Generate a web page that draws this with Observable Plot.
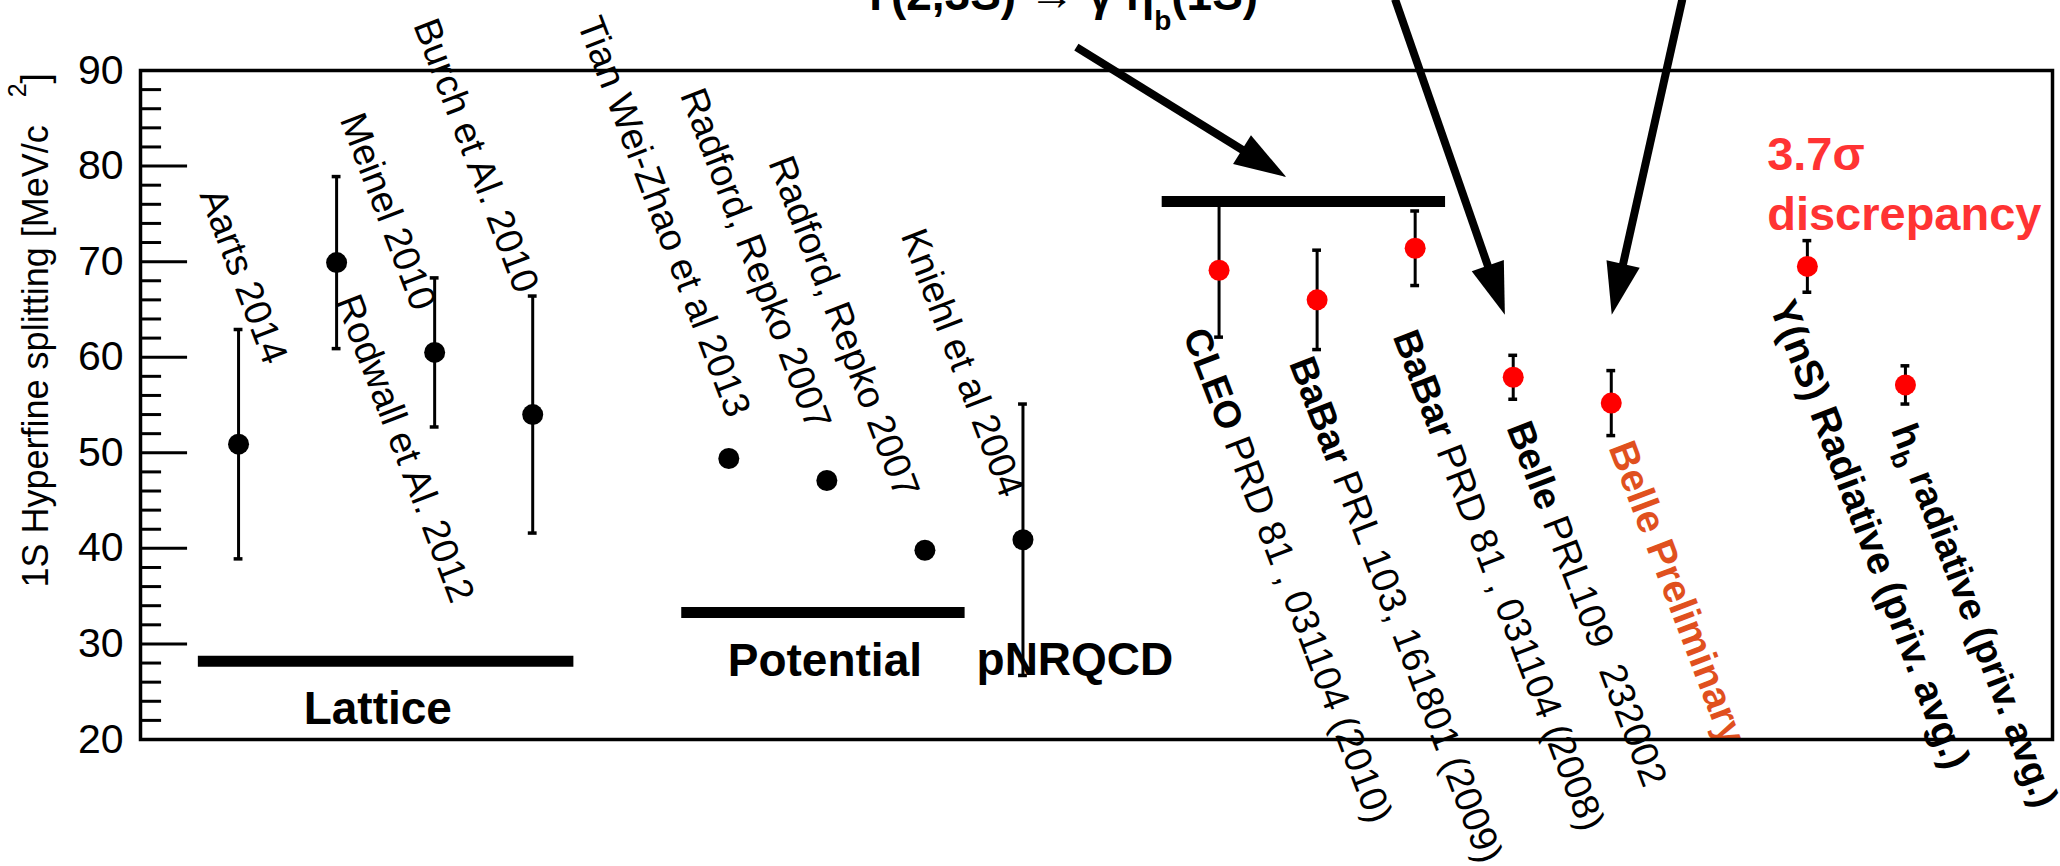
<!DOCTYPE html>
<html><head><meta charset="utf-8">
<script src="https://cdn.jsdelivr.net/npm/d3@7"></script>
<script src="https://cdn.jsdelivr.net/npm/@observablehq/plot@0.6"></script>
<style>
html,body{margin:0;padding:0;background:#fff;overflow:hidden;}
svg text{white-space:pre;}
</style>
</head><body><div id="chart"></div>
<script>
// ---------------- data ----------------
const names  = ["Aarts 2014","Meinel 2010","Rodwall et Al. 2012","Burch et Al. 2010",
  "Tian Wei-Zhao et al 2013","Radford, Repko 2007","Radford, Repko 2007","Kniehl et al 2004",
  "CLEO","BaBar","BaBar","Belle","Belle Preliminary","Υ(nS) Radiative","hb radiative"];
const slots  = [1, 2, 3, 4, 6, 7, 8, 9, 11, 12, 13, 14, 15, 17, 18];
const values = [50.9, 69.9, 60.5, 54.0, 49.4, 47.1, 39.8, 40.9, 69.1, 66.0, 71.4, 57.9, 55.2, 69.5, 57.1];
const errors = [12.0, 9.0, 7.8, 12.4, 0, 0, 0, 14.2, 7.0, 5.2, 3.9, 2.3, 3.4, 2.7, 2.0];
const kinds  = ["theory","theory","theory","theory","theory","theory","theory","theory",
  "exp","exp","exp","exp","exp","exp","exp"];

// group bars
const barNames = ["Lattice", "Potential", "Υ(2,3S) → γ ηb(1S)"];
const barFrom  = [0.59, 5.52, 10.42];
const barTo    = [4.42, 8.41, 13.31];
const barLevel = [28.2, 33.3, 76.3];

// group labels
const groupLabels = ["Lattice", "Potential", "pNRQCD"];
const groupSlot   = [2.42, 6.98, 9.53];
const groupLevel  = [21.67, 26.6, 26.7];

// rotated reference labels: segments [text, weight, role]
const refLabels = [
  [["Aarts 2014","normal"]],
  [["Meinel 2010","normal"]],
  [["Rodwall et Al. 2012","normal"]],
  [["Burch et Al. 2010","normal"]],
  [["Tian Wei-Zhao et al 2013","normal"]],
  [["Radford, Repko 2007","normal"]],
  [["Radford, Repko 2007","normal"]],
  [["Kniehl et al 2004","normal"]],
  [["CLEO","bold"],[" PRD 81 , 031104 (2010)","normal"]],
  [["BaBar","bold"],[" PRL 103, 161801 (2009)","normal"]],
  [["BaBar","bold"],[" PRD 81 , 031104 (2008)","normal"]],
  [["Belle","bold"],[" PRL109  232002","normal"]],
  [["Belle Preliminary","bold","prelim"]],
  [["Υ(nS) Radiative (priv. avg.)","bold","big"]],
  [["h","bold"],["b","bold","sub"],[" radiative (priv. avg.)","bold"]]
];
const refLabelSlot  = [0.60, 2.03, 1.99, 2.78, 4.45, 5.50, 6.40, 7.75, 10.63, 11.71, 12.77, 13.93, 14.97, 16.61, 17.85];
const refLabelLevel = [77.0, 84.9, 65.9, 94.8, 95.0, 87.5, 80.4, 72.8, 62.4, 59.4, 62.2, 52.65, 50.55, 65.3, 52.4];

// title (partly above the picture)
const titleSegments = [["Υ(2,3S) → γ η","bold"],["b","bold","sub"],["(1S)","bold"]];
const titleSlot = 7.34, titleLevel = 96.28;

// discrepancy note
const noteText = "3.7σ\ndiscrepancy";
const noteSlot = 16.59, noteLevel = 73.26;

// arrows (from, to) in data units
const arrowFromSlot  = [9.55, 12.80, 15.73];
const arrowFromLevel = [92.4, 97.4, 97.4];
const arrowToSlot    = [11.69, 13.92, 15.01];
const arrowToLevel   = [78.8, 64.4, 64.4];

// y ticks
const majorTicks = [20,30,40,50,60,70,80,90];
const minorTicks = d3.range(20, 90.001, 2).filter(v => v % 10 !== 0);

// ---------------- build ----------------
const FONT = "'Liberation Sans', Arial, Helvetica, sans-serif";
const points = names.map((n,i)=>({name:n, slot:slots[i], value:values[i], err:errors[i], kind:kinds[i]}));
const withErr = points.filter(d => d.err > 0);
const bars = barNames.map((n,i)=>({name:n, x1:barFrom[i], x2:barTo[i], y:barLevel[i]}));
const groups = groupLabels.map((t,i)=>({text:t, x:groupSlot[i], y:groupLevel[i]}));

const ctx = document.createElement("canvas").getContext("2d");
function measure(text, weight, size){ ctx.font = `${weight} ${size}px ${FONT}`; return ctx.measureText(text).width; }

// segmented text: returns an array of Plot.text marks
function richText(segs, opts){
  const th = (opts.rotate||0)*Math.PI/180, c = Math.cos(th), s = Math.sin(th);
  let adv = 0; const out = [];
  for (const seg of segs){
    adv += seg.gap || 0;
    const shift = seg.shift || 0;
    const dx = (opts.dx||0) + adv*c - shift*s;
    const dy = (opts.dy||0) + adv*s + shift*c;
    const o = {text: d=>d.t, rotate: opts.rotate||0, textAnchor:"start", lineAnchor:"bottom",
      fontSize: seg.size, fontWeight: seg.weight, fill: seg.fill||"black", dx, dy};
    if (opts.frameAnchor) o.frameAnchor = opts.frameAnchor; else { o.x = "x"; o.y = "y"; }
    out.push(Plot.text([{t:seg.text, x:opts.x, y:opts.y}], o));
    adv += measure(seg.text, seg.weight, seg.size);
  }
  return out;
}

const ROT = 69.2, LSIZE = 38, BIG = 39.5;
const labelMarks = refLabels.flatMap((segs,i)=>richText(segs.map(([t,w,role])=>({
  text:t, weight:w,
  size: role==="sub" ? 27 : (role==="big" || role==="prelim") ? BIG : LSIZE,
  shift: role==="sub" ? 10 : 0,
  fill: role==="prelim" ? "#e0501e" : "black"})), {x:refLabelSlot[i], y:refLabelLevel[i], rotate:ROT}));

const titleMarks = richText(titleSegments.map(([t,w,role])=>({
  text:t, weight:w, size: role==="sub" ? 28 : 46, shift: role==="sub" ? 20 : 0})), {x:titleSlot, y:titleLevel});

const yLabelMarks = richText([
  {text:"1S Hyperfine splitting [MeV/c", weight:"normal", size:36},
  {text:"2", weight:"normal", size:25, shift:-22, gap:28},
  {text:"]", weight:"normal", size:38, gap:0}
], {frameAnchor:"bottom-left", dx:-93, dy:-152, rotate:-90});

const plot = Plot.plot({
  width: 2060, height: 866,
  marginLeft: 140, marginRight: 8, marginTop: 70, marginBottom: 127,
  x: {domain:[0, 19.5], axis:null},
  y: {domain:[20, 90], axis:null},
  style: {fontFamily: FONT, background:"white", color:"black"},
  marks: [
    // axis ticks (inward) and labels
    Plot.ruleY(majorTicks, {y:d=>d, x1:0, x2:0.48, strokeWidth:3}),
    Plot.ruleY(minorTicks, {y:d=>d, x1:0, x2:0.215, strokeWidth:3}),
    Plot.text(majorTicks, {y:d=>d, text:d=>String(d), frameAnchor:"left", dx:-17, textAnchor:"end", fontSize:41}),
    ...yLabelMarks,
    // error bars
    Plot.ruleX(withErr, {x:"slot", y1:d=>d.value-d.err, y2:d=>d.value+d.err, strokeWidth:3}),
    Plot.ruleY(withErr, {y:d=>d.value+d.err, x1:d=>d.slot-0.045, x2:d=>d.slot+0.045, strokeWidth:3.5}),
    Plot.ruleY(withErr, {y:d=>d.value-d.err, x1:d=>d.slot-0.045, x2:d=>d.slot+0.045, strokeWidth:3.5}),
    // group bars
    Plot.ruleY(bars, {y:"y", x1:"x1", x2:"x2", strokeWidth:11, stroke:"black"}),
    // points
    Plot.dot(points.filter(d=>d.kind==="theory"), {x:"slot", y:"value", r:10.5, fill:"black", stroke:null}),
    Plot.dot(points.filter(d=>d.kind==="exp"), {x:"slot", y:"value", r:10.5, fill:"#ff0000", stroke:null}),
    // labels
    Plot.text(groups, {x:"x", y:"y", text:"text", textAnchor:"middle", lineAnchor:"bottom", fontSize:46, fontWeight:"bold"}),
    ...labelMarks,
    ...titleMarks,
    Plot.text([noteText], {x:()=>noteSlot, y:()=>noteLevel, text:d=>d, textAnchor:"start", lineAnchor:"bottom",
      lineHeight:1.28, fontSize:47, fontWeight:"bold", fill:"#ff3333"}),
    Plot.frame({stroke:"black", strokeWidth:3.5})
  ]
});
document.getElementById("chart").appendChild(plot);

// arrows with filled heads, positioned through the plot's scales
const sx = plot.scale("x"), sy = plot.scale("y");
const X = d3.scaleLinear(sx.domain, sx.range), Y = d3.scaleLinear(sy.domain, sy.range);
const g = d3.select(plot).append("g").attr("aria-label","arrows");
arrowFromSlot.forEach((_, i) => {
  const x1 = X(arrowFromSlot[i]), y1 = Y(arrowFromLevel[i]);
  const x2 = X(arrowToSlot[i]), y2 = Y(arrowToLevel[i]);
  const L = Math.hypot(x2-x1, y2-y1), ux = (x2-x1)/L, uy = (y2-y1)/L, nx = -uy, ny = ux;
  const hl = 52, hw = 17;
  const bx = x2 - hl*ux, by = y2 - hl*uy;
  g.append("line").attr("x1",x1).attr("y1",y1).attr("x2",bx+4*ux).attr("y2",by+4*uy)
    .attr("stroke","black").attr("stroke-width",8);
  g.append("path").attr("d",`M${x2},${y2}L${bx+hw*nx},${by+hw*ny}L${bx-hw*nx},${by-hw*ny}Z`).attr("fill","black");
});
</script>
</body></html>
